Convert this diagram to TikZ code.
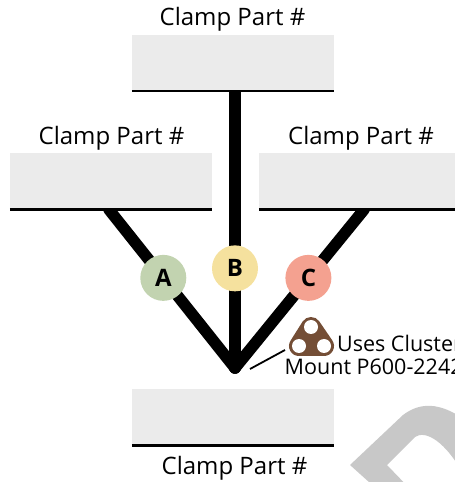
\documentclass[tikz,border=0pt]{standalone}
\usepackage{fontspec}
\setmainfont{Open Sans}
\usepackage{tikz}
\usetikzlibrary{positioning, backgrounds}
\definecolor{boxgray}{HTML}{EBEBEB}
\definecolor{markgray}{HTML}{C8C8C8}
\definecolor{mountbrown}{HTML}{744E36}
\definecolor{badgea}{HTML}{C2D3B0}
\definecolor{badgeb}{HTML}{F5E19E}
\definecolor{badgec}{HTML}{F4A190}

\begin{document}
\begin{tikzpicture}[
    x=1pt, y=1pt,
    clampbox/.style={fill=boxgray, rectangle, minimum width=202pt, minimum height=56pt, inner sep=0pt},
    clamplabel/.style={font=\fontsize{24}{28}\selectfont, inner sep=0pt},
    notelabel/.style={font=\fontsize{21.5}{26}\selectfont, inner sep=0pt, anchor=west},
    arm/.style={line width=11.5pt, line cap=round, black},
    rule/.style={line width=2.5pt, black},
    badge/.style={circle, minimum size=46pt, inner sep=0pt, font=\fontsize{24}{28}\selectfont\bfseries}
]
\useasboundingbox (0,0) rectangle (455,482);
\clip (0,0) rectangle (455,482);

% background mark, cut by the page edge
\fill[markgray, even odd rule] (350,17) -- (403,67) .. controls (420,80) and (440,80) .. (465,62) -- (465,-10) -- (380,-10) -- cycle
    (387,17) -- (415,45) .. controls (425,52) and (445,42) .. (465,5) -- (465,-10) -- (413,-10) -- cycle;

\node[clampbox] (top) at (233,419) {};
\node[clampbox, below=62pt of top, xshift=-122pt] (left) {};
\node[clampbox, below=62pt of top, xshift=127pt] (right) {};
\node[clampbox, below=298pt of top] (bottom) {};

\node[clamplabel, above=3pt of top, xshift=-.5pt] (toplabel) {Clamp Part \#};
\node[clamplabel, above=3pt of left, xshift=.5pt] (leftlabel) {Clamp Part \#};
\node[clamplabel, above=3pt of right, xshift=1pt] (rightlabel) {Clamp Part \#};
\node[clamplabel, below=10pt of bottom, xshift=1.5pt] (bottomlabel) {Clamp Part \#};

\draw[rule] (top.south west) -- (top.south east);
\draw[rule] (left.south west) -- (left.south east);
\draw[rule] (right.south west) -- (right.south east);
\draw[rule] (bottom.south west) -- (bottom.south east);

\coordinate (hub) at (235,114);
\coordinate[right=2pt of top.south] (topend);
\coordinate[left=2pt of left.south] (leftend);
\coordinate[right=4pt of right.south] (rightend);

\begin{scope}[on background layer]
\draw[arm] (leftend) -- node[badge, fill=badgea, pos=.431] (a) {A} (hub);
\draw[arm] (topend) -- node[badge, fill=badgeb, pos=.64] (b) {B} (hub);
\draw[arm] (rightend) -- node[badge, fill=badgec, pos=.431] (c) {C} (hub);
\end{scope}

% cluster mount plate
\fill[mountbrown, draw=mountbrown, line width=20pt, line join=round] (311,155) -- (299,136) -- (324,136) -- cycle;
\fill[white] (311,155) circle (7pt) (299,136) circle (7pt) (324,136) circle (7pt);

\coordinate (noteend) at (285,132);
\coordinate (noteroot) at (250,113);
\draw[line width=1.8pt] (noteroot) -- (noteend);

\node[notelabel] (uses) at (337,139) {Uses Cluster};
\node[notelabel] (mount) at (284.5,115.5) {Mount P600-2242};
\end{tikzpicture}
\end{document}
